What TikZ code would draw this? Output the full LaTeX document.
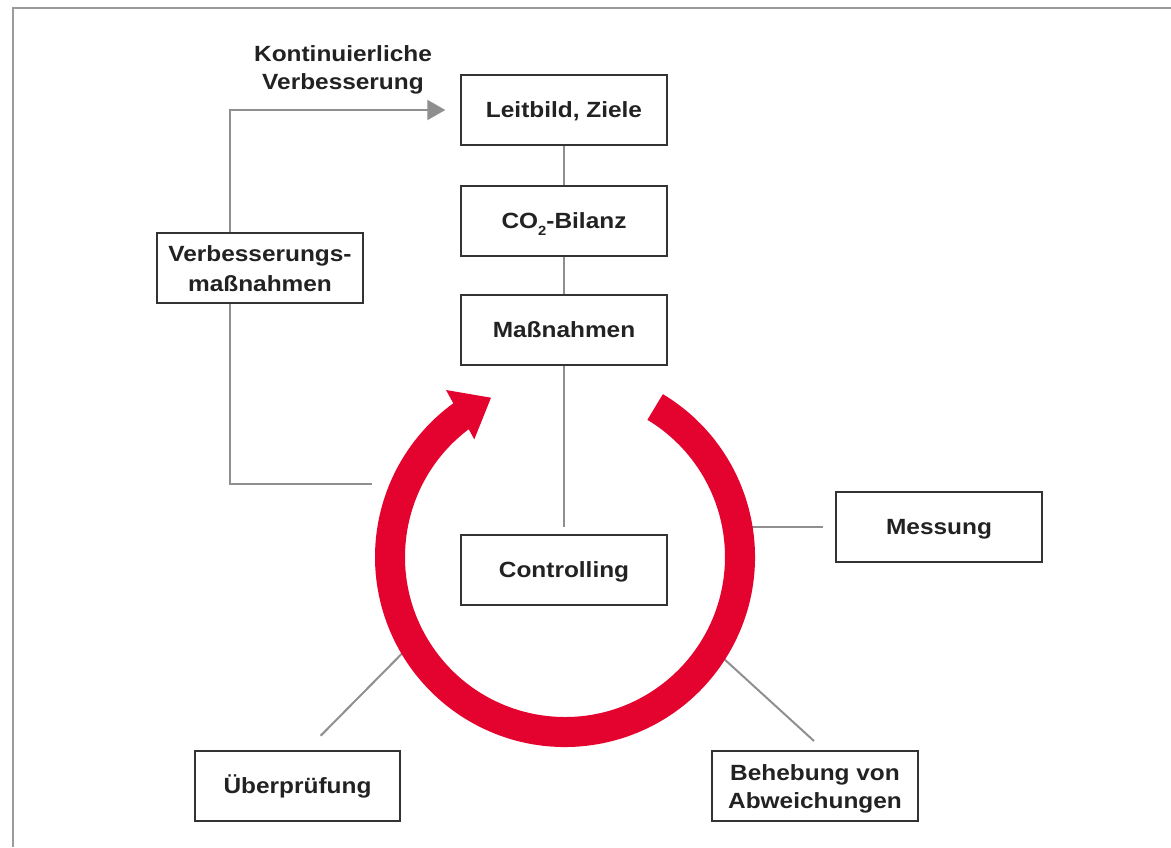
\documentclass[tikz,border=0pt]{standalone}
\usepackage{fontspec}
\setmainfont{Liberation Sans}[FakeStretch=1.11]
\usetikzlibrary{arrows.meta,calc}
\definecolor{ringred}{RGB}{228,3,46}
\definecolor{linegray}{RGB}{143,143,143}
\definecolor{framegray}{RGB}{155,155,155}
\definecolor{boxgray}{RGB}{51,51,51}
\definecolor{txt}{RGB}{34,34,34}
\begin{document}
\begin{tikzpicture}[x=0.75pt,y=0.75pt,
  box/.style={draw=boxgray,line width=1.5pt,fill=white,minimum width=154pt,minimum height=52.5pt,inner sep=0pt,font=\bfseries\fontsize{16.5}{21}\selectfont,text=txt},
  one/.style={text height=11.8pt,text depth=0pt},
  two/.style={align=center},
  lbl/.style={inner sep=0pt,align=center,text=txt,font=\bfseries\fontsize{16.5}{21}\selectfont},
  gline/.style={draw=linegray,line width=1.5pt},
  frameline/.style={draw=framegray,line width=1pt}]
\useasboundingbox (0,0) rectangle (1171,-847);
\draw[frameline] (13,-847) -- (13,-8) -- (1171,-8);

% boxes
\node[box,one] (leit) at (564,-110) {Leitbild, Ziele};
\node[box,one] (co2) at (564,-220.5) {CO\raisebox{-5pt}{\fontsize{10}{12}\selectfont 2}-Bilanz};
\node[box,one] (mass) at (564,-330) {Maßnahmen};
\node[box,one] (ctrl) at (564,-570) {Controlling};
\node[box,two,font=\bfseries\fontsize{16.5}{22.5}\selectfont] (verb) at (260,-268.4) {Verbesserungs-\\maßnahmen};
\node[box,one] (mess) at (939,-526.7) {Messung};
\node[box,one] (uber) at (297.5,-786) {Überprüfung};
\node[box,two] (beh) at (815,-786.3) {Behebung von\\\smash{Abweichungen}};
\node[lbl] (kv) at (343,-67.2) {Kontinuierliche\\\smash{Verbesserung}};

% connectors
\coordinate (C) at (565,-557);
\coordinate (vx) at (230,0);
\coordinate (ringL) at (371.7,-484.3);
\coordinate (ringR) at (745,-526.7);
\coordinate (u1) at (404,-651.5);
\coordinate (u2) at (320.7,-735.7);
\coordinate (b1) at (720.5,-655.7);
\coordinate (b2) at (814,-741);

\draw[gline] (leit) -- (co2);
\draw[gline] (co2) -- (mass);
\draw[gline,shorten >=5.25pt] (mass) -- (ctrl);
\draw[gline] (ringL) -| (vx |- verb.south);
\draw[gline,-{Triangle[length=13.5pt,width=15pt]},shorten >=11.25pt] (vx |- verb.north) |- (leit.west);
\draw[gline,shorten >=9pt] (ringR) -- (mess.west);
\draw[gline] (u1) -- (u2);
\draw[gline] (b1) -- (b2);

% red cycle arrow
\fill[ringred] ($(C)+(59:190)$) arc[start angle=59,end angle=-234,radius=190]
  -- (446,-390) -- (491,-397.7) -- (474.3,-439.3)
  -- ($(C)+(-233:160)$) arc[start angle=-233,end angle=59,radius=160] -- cycle;
\end{tikzpicture}
\end{document}
